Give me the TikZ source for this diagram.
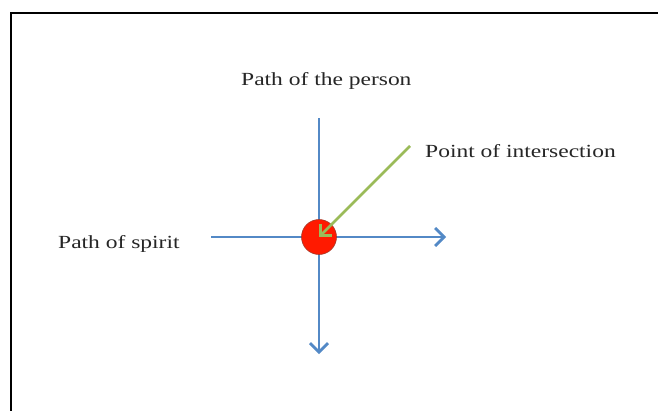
\documentclass[tikz,border=0pt]{standalone}
\usepackage{fontspec}
\setmainfont{Liberation Serif}
\newfontfamily\lblfont[FakeStretch=1.27]{Liberation Serif}
\usetikzlibrary{arrows.meta}
\definecolor{axisblue}{HTML}{5389C6}
\definecolor{pointgreen}{HTML}{9BBB59}
\definecolor{dotred}{HTML}{FF1A00}
\definecolor{dotedge}{HTML}{A33A2A}
\tikzset{
  axis/.style={draw=axisblue, line width=2.8pt},
  axistip/.style={-{Straight Barb[length=9pt,width=18pt,line width=2.8pt]}},
  pointer/.style={draw=pointgreen, line width=2.8pt, -{Straight Barb[length=8pt,width=16pt,line width=2.8pt]}},
  lbl/.style={font=\lblfont\fontsize{18.5}{21}\selectfont, text=black!85, inner sep=0pt, anchor=base west},
  frame/.style={draw=black, line width=2pt}
}
\begin{document}
\begin{tikzpicture}[x=1pt,y=-1pt]
\useasboundingbox (0,0) rectangle (658,410);
\fill[white] (0,0) rectangle (658,410);
\coordinate (fl) at (11,413);
\coordinate (ftl) at (11,13);
\coordinate (fr) at (660,13);
\draw[frame] (fl) -- (ftl) -- (fr);
% axes
\coordinate (vtop) at (319,118);
\coordinate (vbot) at (319,354);
\coordinate (hleft) at (211,237);
\coordinate (hright) at (446,237);
\draw[axis, axistip] (hleft) -- (hright);
\draw[axis, axistip] (vtop) -- (vbot);
\node[circle, fill=dotred, draw=dotedge, line width=0.6pt, minimum size=35pt, inner sep=0pt] (dot) at (319,237) {};
\coordinate (gstart) at (410,146);
\draw[pointer] (gstart) -- (dot.center);
% labels
\node[lbl] (person) at (241,85) {Path of the person};
\node[lbl] (inter) at (425,157) {Point of intersection};
\node[lbl] (spirit) at (58,248) {Path of spirit};
\end{tikzpicture}
\end{document}
